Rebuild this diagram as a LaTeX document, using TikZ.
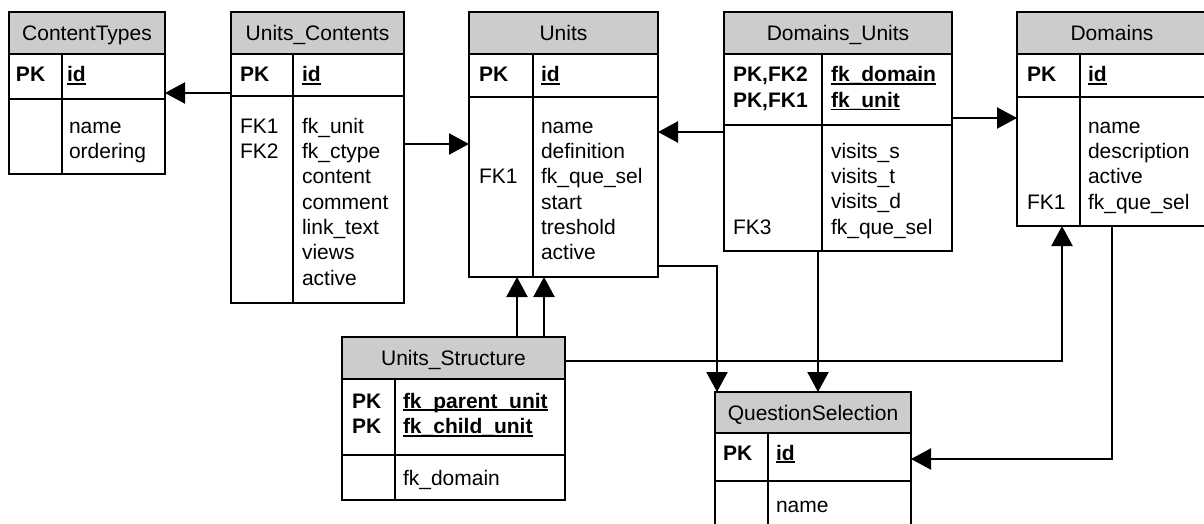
\documentclass[tikz,border=0pt]{standalone}
\usepackage{fontspec}
\setmainfont{Liberation Sans}
\usetikzlibrary{arrows.meta,fit}
\definecolor{hdrgray}{RGB}{204,204,204}
\newcommand\keyu[1]{\setbox0\hbox{#1}\rlap{\rule[-3.2pt]{\wd0}{1.8pt}}\box0}
\newcommand\tfont{\fontsize{21}{24}\selectfont}
\tikzset{
  ttext/.style={font=\tfont, inner sep=0pt, outer sep=0pt},
  btext/.style={font=\tfont\bfseries, inner sep=0pt, outer sep=0pt},
  tframe/.style={draw, line width=1.2pt, inner sep=0pt, outer sep=0pt},
  tline/.style={line width=1.2pt},
  hdrfill/.style={fill=hdrgray},
  conn/.style={line width=2.2pt, -{Triangle[length=20pt,width=21pt]}},
}
% #1 name, #2 x1, #3 y1, #4 x2, #5 y2, #6 header bottom, #7 key bottom, #8 divider x, #9 title
\newcommand\dbtable[9]{%
  \fill[hdrfill] (#2,#3) rectangle (#4,#6);
  \draw[tline] (#2,#6) -- (#4,#6) (#2,#7) -- (#4,#7) (#8,#6) -- (#8,#5);
  \node[tframe, fit={(#2,#3) (#4,#5)}] (#1) {};
  \node[ttext, anchor=base] (#1-title) at ({(#2+#4)/2},{(#3+#6)/2+7.6}) {#9};
}
% #1 prefix, #2 x, #3 first baseline, #4 list
\newcommand\flist[4]{%
  \foreach \t [count=\i from 0] in {#4} {\node[ttext, anchor=base west] (#1-\i) at (#2,{#3+25.3*\i}) {\t};}
}
\begin{document}
\begin{tikzpicture}[x=1pt,y=-1pt]
\useasboundingbox (0,0) rectangle (1204,524);
\clip (0,0) rectangle (1204,524);

% ContentTypes
\dbtable{ct}{9}{12}{165}{174}{54}{99}{62}{ContentTypes}
\node[btext, anchor=base west] (ct-pk) at (16,82) {PK};
\node[btext, anchor=base west] (ct-id) at (67,82) {\keyu{id}};
\flist{ctf}{69}{133.3}{name,ordering}

% Units_Contents
\dbtable{uc}{231}{12}{404}{303}{54}{96}{293}{Units\_Contents}
\node[btext, anchor=base west] (uc-pk) at (240,82) {PK};
\node[btext, anchor=base west] (uc-id) at (302,82) {\keyu{id}};
\flist{ucfk}{240}{133.3}{FK1,FK2}
\flist{ucf}{302}{133.3}{fk\_unit,fk\_ctype,content,comment,link\_text,views,active}

% Units
\dbtable{un}{469}{12}{658}{277}{54}{97}{533}{Units}
\node[btext, anchor=base west] (un-pk) at (479,82) {PK};
\node[btext, anchor=base west] (un-id) at (541,82) {\keyu{id}};
\node[ttext, anchor=base west] (un-fk) at (479,183.9) {FK1};
\flist{unf}{541}{133.3}{name,definition,fk\_que\_sel,start,treshold,active}

% Domains_Units
\dbtable{du}{724}{12}{952}{251}{54}{125}{822}{Domains\_Units}
\flist{dupk}{733}{82}{\textbf{PK,FK2},\textbf{PK,FK1}}
\flist{duk}{831}{82}{\textbf{\keyu{fk\_domain}},\textbf{\keyu{fk\_unit}}}
\node[ttext, anchor=base west] (du-fk) at (733,234.5) {FK3};
\flist{duf}{831}{158.3}{visits\_s,visits\_t,visits\_d,fk\_que\_sel}

% Domains
\dbtable{dm}{1017}{12}{1207}{226}{54}{97}{1080}{Domains}
\node[btext, anchor=base west] (dm-pk) at (1027,82) {PK};
\node[btext, anchor=base west] (dm-id) at (1088,82) {\keyu{id}};
\node[ttext, anchor=base west] (dm-fk) at (1027,209.2) {FK1};
\flist{dmf}{1088}{133.3}{name,description,active,fk\_que\_sel}

% Units_Structure
\dbtable{us}{342}{337}{565}{500}{379}{455}{395}{Units\_Structure}
\flist{uspk}{352}{408}{\textbf{PK},\textbf{PK}}
\flist{usk}{403}{408}{\textbf{\keyu{fk\_parent\_unit}},\textbf{\keyu{fk\_child\_unit}}}
\node[ttext, anchor=base west] (us-f) at (403,485) {fk\_domain};

% QuestionSelection
\dbtable{qs}{715}{392}{911}{530}{433}{481}{768}{QuestionSelection}
\node[btext, anchor=base west] (qs-pk) at (723,460) {PK};
\node[btext, anchor=base west] (qs-id) at (776,460) {\keyu{id}};
\node[ttext, anchor=base west] (qs-f) at (776,512) {name};

% Connectors
\draw[conn] (uc.west |- 0,93) -- (ct.east |- 0,93);
\draw[conn] (uc.east |- 0,144) -- (un.west |- 0,144);
\draw[conn] (du.west |- 0,132) -- (un.east |- 0,132);
\draw[conn] (du.east |- 0,118) -- (dm.west |- 0,118);
\draw[conn] (un.east |- 0,266) -| ([xshift=2pt]qs.north west);
\draw[conn] (du.south -| 818,0) -- (qs.north -| 818,0);
\draw[conn] (us.north -| 517,0) -- (un.south -| 517,0);
\draw[conn] (us.north -| 544,0) -- (un.south -| 544,0);
\draw[conn] (us.east |- 0,361) -| (dm.south -| 1062,0);
\draw[conn] (dm.south -| 1112,0) |- (qs.east |- 0,459);
\end{tikzpicture}
\end{document}
